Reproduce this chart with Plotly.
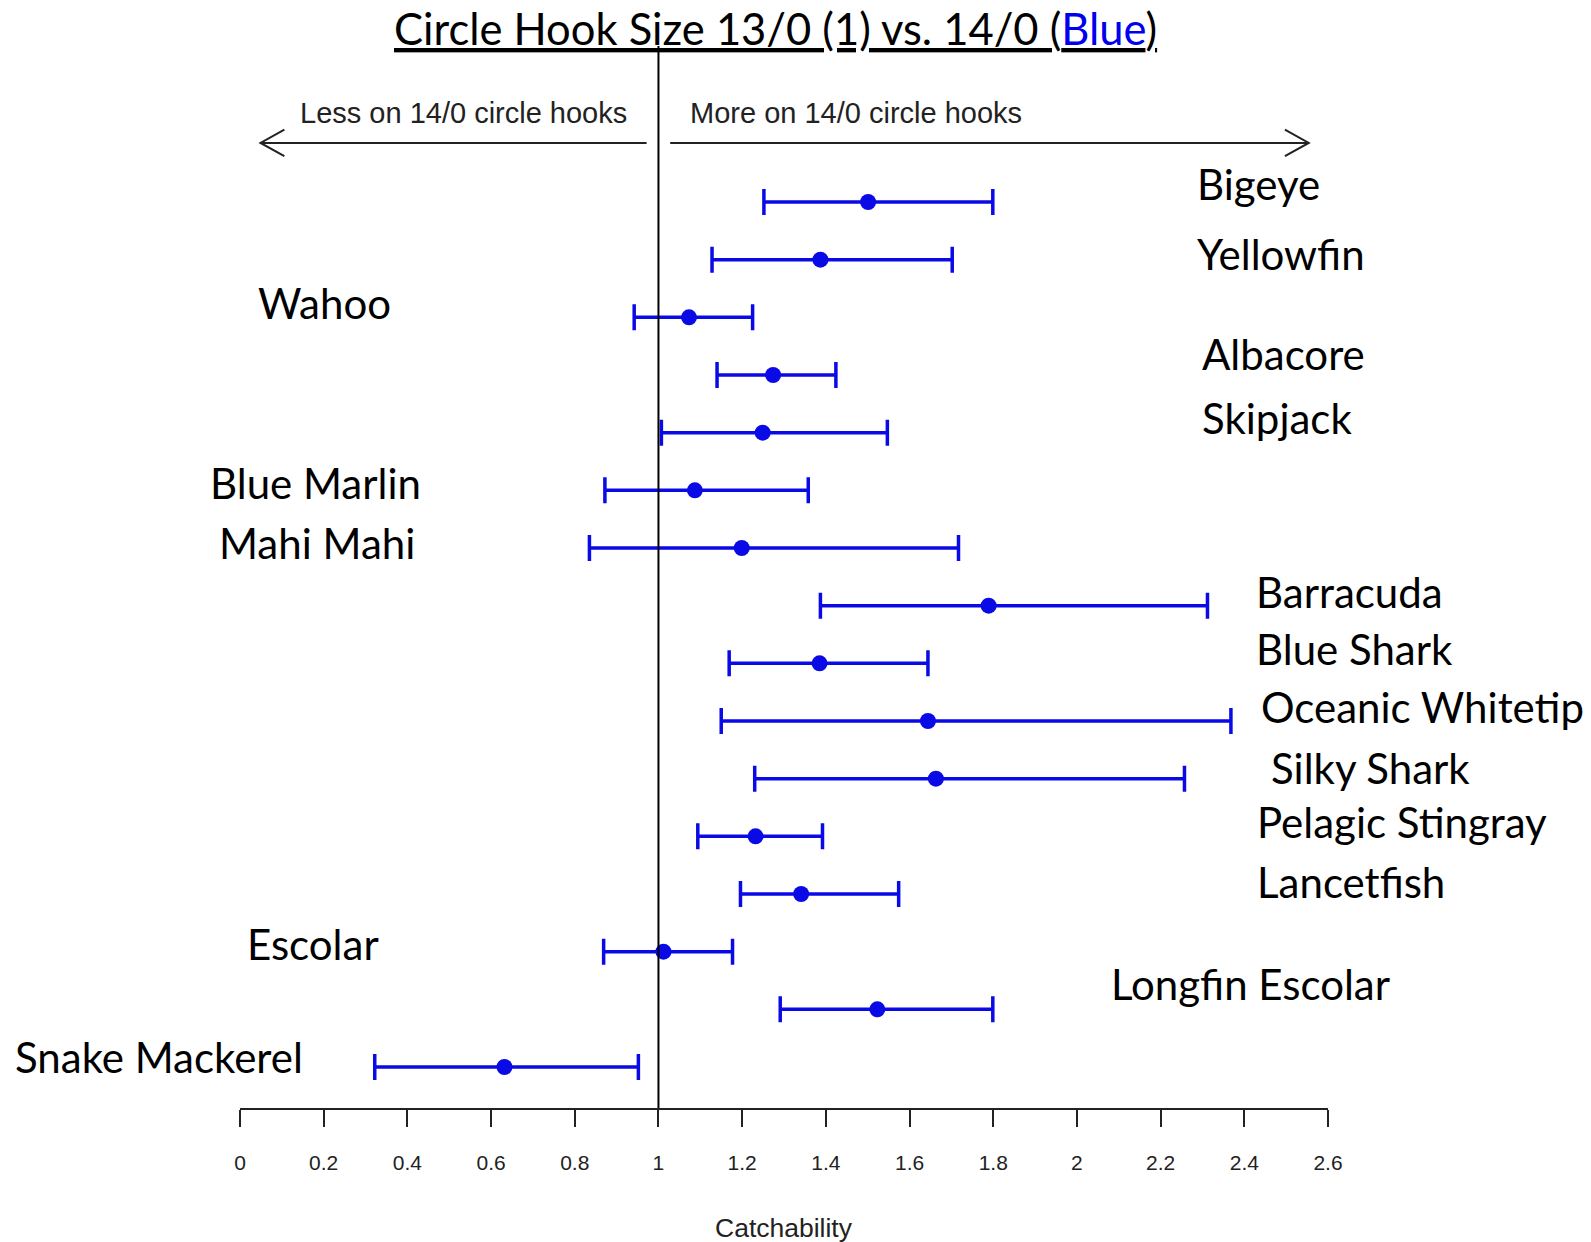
import plotly.graph_objects as go

# ---- data ----
species = ["Bigeye", "Yellowfin", "Wahoo", "Albacore", "Skipjack", "Blue Marlin",
           "Mahi Mahi", "Barracuda", "Blue Shark", "Oceanic Whitetip", "Silky Shark",
           "Pelagic Stingray", "Lancetfish", "Escolar", "Longfin Escolar", "Snake Mackerel"]
estimate = [1.501, 1.387, 1.073, 1.274, 1.249, 1.087, 1.199, 1.789, 1.385, 1.644,
            1.663, 1.232, 1.341, 1.012, 1.523, 0.632]
lower = [1.252, 1.128, 0.942, 1.140, 1.007, 0.872, 0.835, 1.387, 1.169, 1.150,
         1.230, 1.094, 1.196, 0.869, 1.291, 0.322]
upper = [1.799, 1.702, 1.225, 1.424, 1.547, 1.358, 1.717, 2.312, 1.644, 2.368,
         2.257, 1.392, 1.574, 1.177, 1.799, 0.952]
tick_vals = [0, 0.2, 0.4, 0.6, 0.8, 1, 1.2, 1.4, 1.6, 1.8, 2, 2.2, 2.4, 2.6]
tick_text = ["0", "0.2", "0.4", "0.6", "0.8", "1", "1.2", "1.4", "1.6", "1.8", "2", "2.2", "2.4", "2.6"]

# ---- label placement (layout only; x in axis units, left edge) ----
label_x = [2.283, 2.283, 0.039, 2.293, 2.293, -0.077, -0.056, 2.424, 2.424, 2.436,
           2.460, 2.426, 2.426, 0.012, 2.077, -0.542]
label_dy = [-0.32, -0.10, -0.25, -0.37, -0.26, -0.12, -0.09, -0.23, -0.25, -0.25,
            -0.19, -0.25, -0.21, -0.14, -0.44, -0.18]

X_MAX = 2.6
rows = list(range(len(species)))
BLUE = "#0a0ae6"

fig = go.Figure()
fig.add_trace(go.Scatter(
    x=estimate, y=rows, mode="markers",
    marker=dict(color=BLUE, size=16),
    error_x=dict(type="data", symmetric=False,
                 array=[u - e for u, e in zip(upper, estimate)],
                 arrayminus=[e - l for e, l in zip(estimate, lower)],
                 color=BLUE, thickness=3.5, width=13),
    showlegend=False, cliponaxis=False,
))

annotations = []
for i, name in enumerate(species):
    annotations.append(dict(x=label_x[i] / X_MAX, y=rows[i] + label_dy[i], xref="paper", yref="y",
                            text=name, showarrow=False, xanchor="left", yanchor="middle",
                            font=dict(family="Lato", size=42, color="black")))

annotations.append(dict(x=0.4926, y=1.017, xref="paper", yref="paper",
                        text="<u>Circle Hook Size 13/0 (1) vs. 14/0 (<span style='color:#0000ee'>Blue</span>)</u>",
                        showarrow=False, xanchor="center", yanchor="middle",
                        font=dict(family="Lato", size=43.5, color="black")))
annotations.append(dict(x=0.5334 / X_MAX, y=0.9373, xref="paper", yref="paper",
                        text="Less on 14/0 circle hooks", showarrow=False,
                        xanchor="center", yanchor="middle",
                        font=dict(family="Liberation Sans", size=29, color="#222")))
annotations.append(dict(x=1.473 / X_MAX, y=0.9373, xref="paper", yref="paper",
                        text="More on 14/0 circle hooks", showarrow=False,
                        xanchor="center", yanchor="middle",
                        font=dict(family="Liberation Sans", size=29, color="#222")))
annotations.append(dict(x=0.5, y=-0.113, xref="paper", yref="paper",
                        text="Catchability", showarrow=False,
                        xanchor="center", yanchor="middle",
                        font=dict(family="Liberation Sans", size=26.5, color="#222")))

ay = 0.9087
hx = 0.057
hy = 0.0125
line_style = dict(color="#222", width=2)
shapes = [
    dict(type="line", xref="x", yref="paper", x0=1, x1=1, y0=0, y1=1,
         line=dict(color="black", width=2)),
    dict(type="line", xref="x", yref="paper", x0=0.9716, x1=0.049, y0=ay, y1=ay, line=line_style),
    dict(type="path", xref="x", yref="paper",
         path=f"M {0.049 + hx},{ay + hy} L 0.049,{ay} L {0.049 + hx},{ay - hy}", line=line_style),
    dict(type="line", xref="x", yref="paper", x0=1.028, x1=2.554, y0=ay, y1=ay, line=line_style),
    dict(type="path", xref="x", yref="paper",
         path=f"M {2.554 - hx},{ay + hy} L 2.554,{ay} L {2.554 - hx},{ay - hy}", line=line_style),
]

fig.update_layout(
    width=1591, height=1242,
    margin=dict(l=240, r=263, t=46, b=134),
    plot_bgcolor="white", paper_bgcolor="white",
    annotations=annotations, shapes=shapes,
    xaxis=dict(range=[0, X_MAX], tickvals=tick_vals, ticktext=tick_text,
               showgrid=False, zeroline=False, showline=True, linecolor="#222", linewidth=2,
               ticks="outside", ticklen=17, tickwidth=2, tickcolor="#222",
               ticklabelstandoff=18,
               tickfont=dict(family="Liberation Sans", size=21, color="#222")),
    yaxis=dict(range=[15.711, -2.705], visible=False, showgrid=False, zeroline=False),
)

fig.write_html("out.html")
